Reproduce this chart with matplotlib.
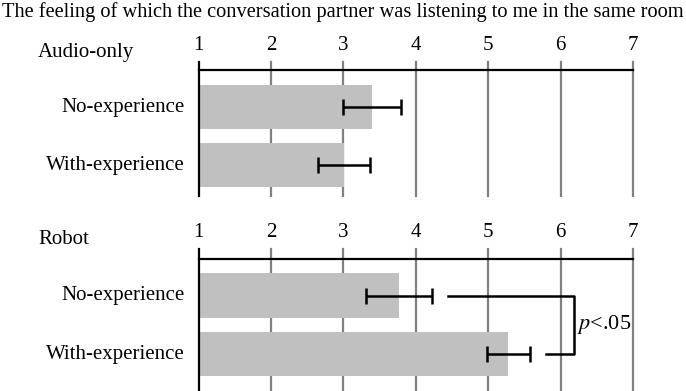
import matplotlib.pyplot as plt

plt.rcParams['font.family'] = 'Liberation Serif'

title = "The feeling of which the conversation partner was listening to me in the same room"
groups = ["Audio-only", "Robot"]
conditions = ["No-experience", "With-experience"]
means = [[3.40, 3.01], [3.77, 5.28]]
errs = [[0.40, 0.36], [0.46, 0.30]]
ticks = [1, 2, 3, 4, 5, 6, 7]

W, H = 686, 391
fig = plt.figure(figsize=(W / 100, H / 100), dpi=100)

# pixel layout of each panel: (top px, bottom px, y at top, y at bottom)
panels = [(62, 196, -0.776, 1.534), (249, 391, -0.795, 1.632)]
x0, x1 = 198.5, 633.0
fs = 15

fig.text(0.5, 1 - 12 / H, title, ha='center', va='center', fontsize=14.7)

for gi, (top, bot, ytop, ybot) in enumerate(panels):
    ax = fig.add_axes([x0 / W, 1 - bot / H, (x1 - x0) / W, (bot - top) / H])
    ax.set_xlim(1, 7)
    ax.set_ylim(ybot, ytop)
    for s in ax.spines.values():
        s.set_visible(False)
    ax.set_yticks([])
    ax.xaxis.tick_top()
    ax.set_xticks(ticks)
    ax.tick_params(axis='x', length=0, pad=5, labelsize=fs)

    for t in ticks[1:]:
        ax.axvline(t, color='#808080', lw=1.6, zorder=0, clip_on=False)
    ax.axvline(1, color='black', lw=1.6, zorder=3, clip_on=False)
    ax.axhline(-0.63, color='black', lw=1.6, zorder=3, clip_on=False)

    ypos = [0, 1]
    ax.barh(ypos, [m - 1 for m in means[gi]], left=1, height=0.76,
            color='#c0c0c0', zorder=1)
    ax.errorbar(means[gi], ypos, xerr=errs[gi], fmt='none', ecolor='black',
                elinewidth=1.8, capsize=6, capthick=1.8, zorder=4)

    fig.text(38 / W, 1 - (top - 10) / H, groups[gi], ha='left', va='center',
             fontsize=fs)
    for yi, lab in zip(ypos, conditions):
        ax.text(-0.031, yi, lab, transform=ax.get_yaxis_transform(),
                ha='right', va='center', fontsize=fs)

    if gi == 1:
        ax.plot([4.45, 6.18, 6.18, 5.80], [0, 0, 1, 1], color='black',
                lw=1.8, zorder=4)
        ax.text(6.22, 0.5, r'$p$<.05', ha='left', va='center', fontsize=16,
                math_fontfamily='stix')

fig.savefig('out.png', dpi=100)
